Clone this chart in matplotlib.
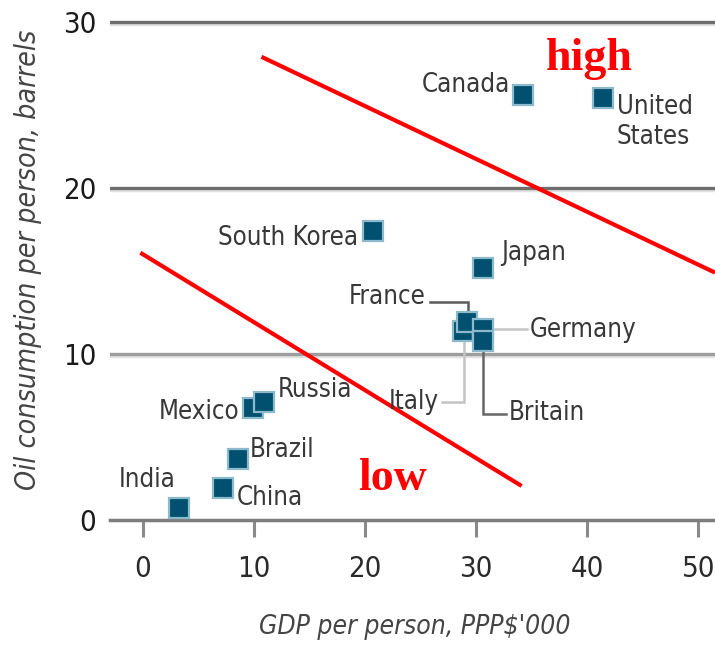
import matplotlib
matplotlib.use("Agg")
import matplotlib.pyplot as plt
import numpy as np

# ---- data ----
countries = ["India", "China", "Brazil", "Mexico", "Russia", "South Korea",
             "Italy", "France", "Germany", "Britain", "Japan", "Canada", "United States"]
gdp = [3.3, 7.2, 8.6, 9.9, 10.9, 20.7, 28.8, 29.2, 30.6, 30.6, 30.6, 34.2, 41.4]
oil = [0.7, 1.9, 3.7, 6.75, 7.1, 17.4, 11.4, 11.9, 11.5, 10.8, 15.2, 25.6, 25.4]
labels = ["India", "China", "Brazil", "Mexico", "Russia", "South Korea",
          "Italy", "France", "Germany", "Britain", "Japan", "Canada", "United\nStates"]

high_line_x = [10.7, 51.5]
high_line_y = [27.9, 14.9]
low_line_x = [-0.2, 34.1]
low_line_y = [16.1, 2.05]

x_ticks = [0, 10, 20, 30, 40, 50]
y_ticks = [0, 10, 20, 30]

# ---- style / layout ----
W, H = 715, 650
fig = plt.figure(figsize=(W / 100, H / 100), dpi=100)
ax = fig.add_axes([110 / W, 130 / H, 605 / W, 508 / H])
ax.set_xlim(-2.93, 51.5)
ax.set_ylim(0, 30.6)

FONT = dict(family="DejaVu Sans", stretch="condensed")

for s in ["top", "right", "left"]:
    ax.spines[s].set_visible(False)
ax.spines["bottom"].set_color("#7d7d7d")
ax.spines["bottom"].set_linewidth(2.5)

ax.set_xticks(x_ticks)
ax.set_yticks(y_ticks)
ax.tick_params(axis="x", length=12, width=2.2, color="#8a8a8a", pad=13,
               labelsize=21, labelcolor="#2a2a2a")
ax.tick_params(axis="y", length=0, pad=10, labelsize=21, labelcolor="#1a1a1a")
for lab in ax.get_xticklabels() + ax.get_yticklabels():
    lab.set_fontfamily("DejaVu Sans")
    lab.set_fontstretch("condensed")

grid_colors = {10: "#9e9e9e", 20: "#6e6e6e", 30: "#6e6e6e"}
for yv in y_ticks[1:]:
    ax.axhline(yv - 0.12, color="#e2e2e2", lw=2.5, zorder=1)
    ax.axhline(yv, color=grid_colors[yv], lw=2.4, zorder=1.5)

ax.set_xlabel("GDP per person, PPP$'000", fontsize=19, style="italic",
              color="#444444", va="center", **FONT)
ax.xaxis.set_label_coords(0.504, -0.21)
ax.set_ylabel("Oil consumption per person, barrels", fontsize=20.5, style="italic",
              color="#444444", va="center", ha="center", **FONT)
ax.yaxis.set_label_coords(-0.136, 0.512)

# red guide lines
ax.plot(high_line_x, high_line_y, color="#ff0000", lw=3, solid_capstyle="butt", zorder=2)
ax.plot(low_line_x, low_line_y, color="#ff0000", lw=3, solid_capstyle="butt", zorder=2)
ax.text(40.2, 27.1, "high", color="#ff0000", fontsize=33, fontweight="bold",
        family="Liberation Serif", ha="center", va="baseline")
ax.text(22.5, 1.8, "low", color="#ff0000", fontsize=33, fontweight="bold",
        family="Liberation Serif", ha="center", va="baseline")

# pixel -> data scale
sx = (ax.transData.transform((1, 0))[0] - ax.transData.transform((0, 0))[0])
sy = (ax.transData.transform((0, 1))[1] - ax.transData.transform((0, 0))[1])

# label offsets in pixels: (dx, dy, ha, va)
label_style = {
    "India": (-4, 28, "right", "center"),
    "China": (14, -10, "left", "center"),
    "Brazil": (12, 9, "left", "center"),
    "Mexico": (-13, -4, "right", "center"),
    "Russia": (14, 12, "left", "center"),
    "South Korea": (-15, -7, "right", "center"),
    "Italy": (-24, -71, "right", "center"),
    "France": (-42, 25, "right", "center"),
    "Germany": (47, -1, "left", "center"),
    "Britain": (26, -72, "left", "center"),
    "Japan": (18, 15, "left", "center"),
    "Canada": (-13, 10, "right", "center"),
    "United States": (14, 4, "left", "top"),
}
leaders = {
    "France": ([(-37, 20), (1, 20), (1, 10)], "#5a5a5a"),
    "Germany": ([(12, 0), (44, 0)], "#c4c4c4"),
    "Italy": ([(1, -11), (1, -71), (-21, -71)], "#c4c4c4"),
    "Britain": ([(0, -10), (0, -73), (23, -73)], "#666666"),
}

for c, x, y, lab in zip(countries, gdp, oil, labels):
    if c in leaders:
        pts, col = leaders[c]
        ax.plot([x + p[0] / sx for p in pts], [y + p[1] / sy for p in pts],
                color=col, lw=1.8, zorder=2.5, solid_joinstyle="miter")

for i, (c, x, y, lab) in enumerate(zip(countries, gdp, oil, labels)):
    ax.plot([x], [y], marker="s", ms=14.5, mfc="#02506f", mec="#8cb9cb",
            mew=1.6, ls="none", zorder=3 + i * 0.01, clip_on=False)
    dx, dy, ha, va = label_style[c]
    ax.text(x + dx / sx, y + dy / sy, lab, ha=ha, va=va, fontsize=18.5,
            color="#383838", linespacing=1.2, zorder=4, **FONT)

fig.savefig("out.png", dpi=100)
